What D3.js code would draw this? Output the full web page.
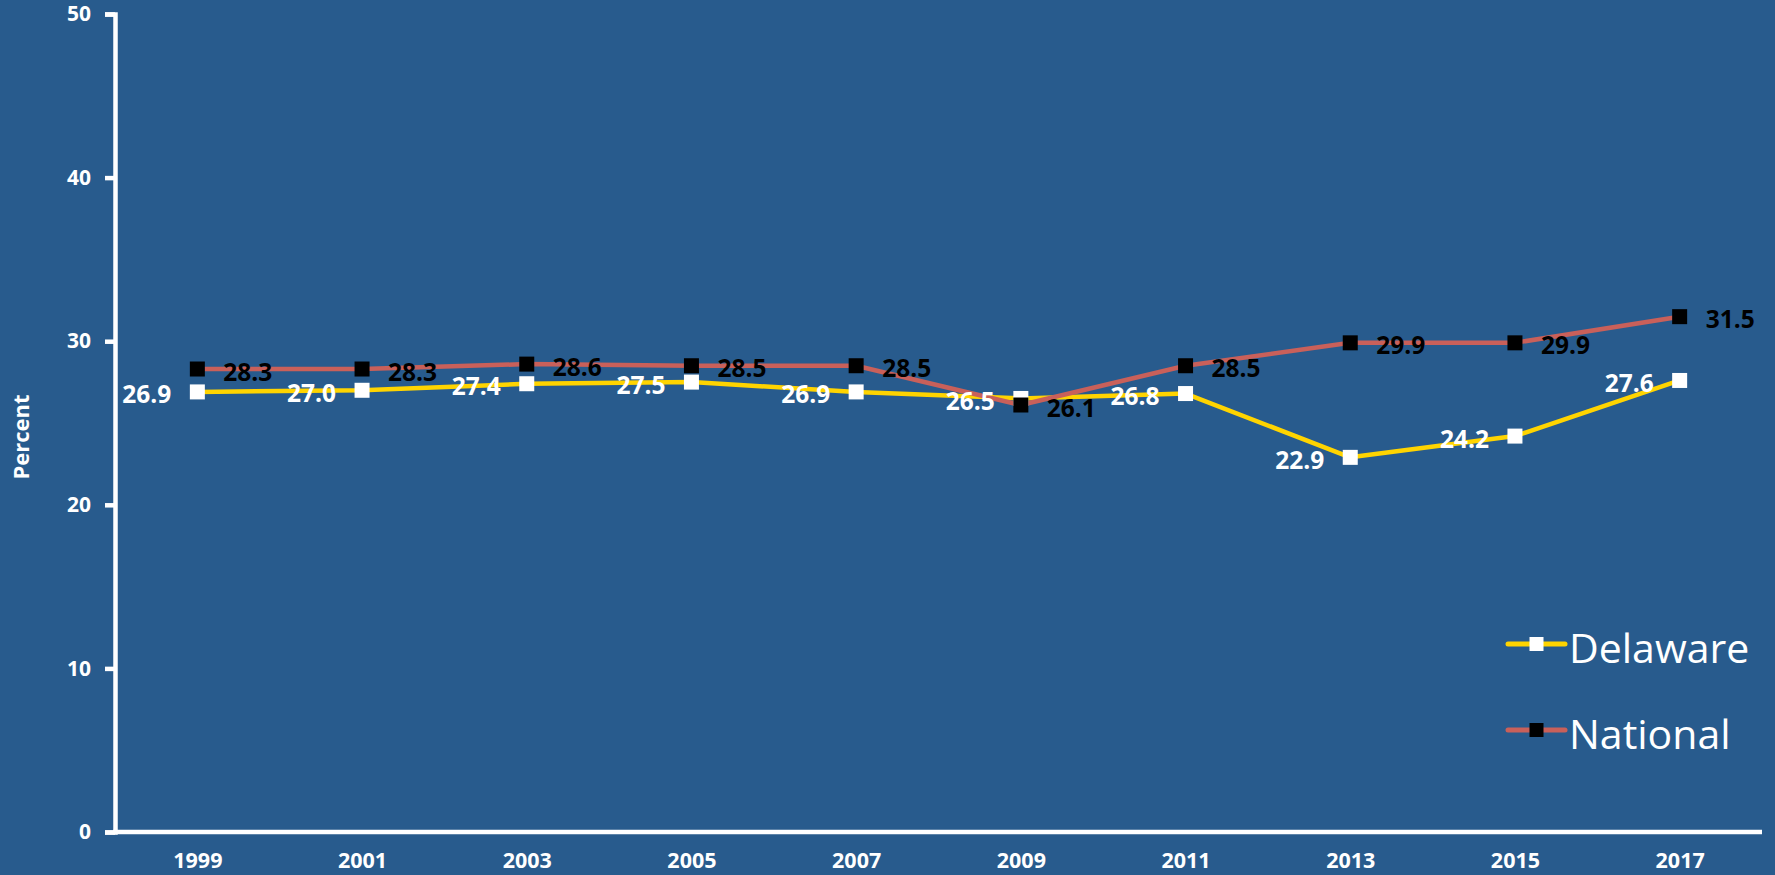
<!DOCTYPE html>
<html>
<head>
<meta charset="utf-8">
<script src="https://cdn.jsdelivr.net/npm/d3@7"></script>
<style>
  html, body { margin: 0; padding: 0; background: #285B8D; }
  svg { display: block; }
  text { font-family: "Open Sans", "Noto Sans", sans-serif; }
</style>
</head>
<body>
<svg id="chart" width="1775" height="875"></svg>
<script>
const years = ["1999", "2001", "2003", "2005", "2007", "2009", "2011", "2013", "2015", "2017"];
const delaware = [26.9, 27.0, 27.4, 27.5, 26.9, 26.5, 26.8, 22.9, 24.2, 27.6];
const national = [28.3, 28.3, 28.6, 28.5, 28.5, 26.1, 28.5, 29.9, 29.9, 31.5];
const yTicks = [0, 10, 20, 30, 40, 50];
const seriesNames = ["Delaware", "National"];

(function () {
const W = 1775, H = 875;
const svg = d3.select("#chart");
svg.append("rect").attr("width", W).attr("height", H).attr("fill", "#285B8D");

const mLeft = 115, mRight = 1762, mTop = 14, mBottom = 832;
const x = d3.scalePoint().domain(years).range([mLeft, mRight]).padding(0.5);
const y = d3.scaleLinear().domain([0, 50]).range([mBottom, mTop]);

// y axis
const yAxis = d3.axisLeft(y).tickValues(yTicks).tickSize(10).tickPadding(14).tickFormat(d3.format("d"));
const gy = svg.append("g").attr("transform", `translate(${mLeft},0)`).call(yAxis);
gy.select(".domain").attr("stroke", "#fff").attr("stroke-width", 4.5);
gy.selectAll(".tick line").attr("stroke", "#fff").attr("stroke-width", 4.5);
gy.selectAll(".tick text").attr("fill", "#fff").attr("font-size", 21).attr("font-weight", "bold")
  .attr("font-family", "'Open Sans', sans-serif");

// x axis
const xAxis = d3.axisBottom(x).tickSize(0).tickPadding(21);
const gx = svg.append("g").attr("transform", `translate(0,${mBottom})`).call(xAxis);
gx.select(".domain").attr("stroke", "#fff").attr("stroke-width", 4.5)
  .attr("d", `M${mLeft - 2},0H${mRight}`);
gx.selectAll(".tick text").attr("fill", "#fff").attr("font-size", 21.5).attr("font-weight", "bold")
  .attr("font-family", "'Open Sans', sans-serif");

// y title
svg.append("text")
  .attr("transform", `translate(29,${(mTop + mBottom) / 2 + 14}) rotate(-90)`)
  .attr("text-anchor", "middle")
  .attr("fill", "#fff").attr("font-size", 22).attr("font-weight", "bold")
  .text("Percent");

const series = [
  { name: seriesNames[0], values: delaware, line: "#FFD400", marker: "#FFFFFF", label: "#FFFFFF", side: -1 },
  { name: seriesNames[1], values: national, line: "#C9605A", marker: "#000000", label: "#000000", side: 1 }
];

const line = d3.line().x((d, i) => x(years[i])).y(d => y(d));
const ms = 15;

series.forEach(s => {
  svg.append("path").datum(s.values)
    .attr("d", line).attr("fill", "none")
    .attr("stroke", s.line).attr("stroke-width", 4.5).attr("stroke-linejoin", "round");
});
series.forEach(s => {
  svg.append("g").selectAll("rect").data(s.values).join("rect")
    .attr("x", (d, i) => x(years[i]) - ms / 2)
    .attr("y", d => y(d) - ms / 2)
    .attr("width", ms).attr("height", ms)
    .attr("fill", s.marker);
});
series.forEach(s => {
  svg.append("g").selectAll("text").data(s.values).join("text")
    .attr("x", (d, i) => x(years[i]) + s.side * 26)
    .attr("y", d => y(d) + 11.5)
    .attr("text-anchor", s.side < 0 ? "end" : "start")
    .attr("fill", s.label).attr("font-size", 24.5).attr("font-weight", "bold")
    .text(d => d3.format(".1f")(d));
});

// legend
const legY = [644, 730];
series.forEach((s, i) => {
  const g = svg.append("g").attr("transform", `translate(0,${legY[i]})`);
  g.append("line").attr("x1", 1508).attr("x2", 1565).attr("y1", 0).attr("y2", 0)
    .attr("stroke", s.line).attr("stroke-width", 5).attr("stroke-linecap", "round");
  g.append("rect").attr("x", 1536.5 - 7).attr("y", -7).attr("width", 14).attr("height", 14).attr("fill", s.marker);
  g.append("text").attr("x", 1569).attr("y", 19).attr("fill", "#fff")
    .attr("font-size", 41).text(s.name);
});
})();
</script>
</body>
</html>
